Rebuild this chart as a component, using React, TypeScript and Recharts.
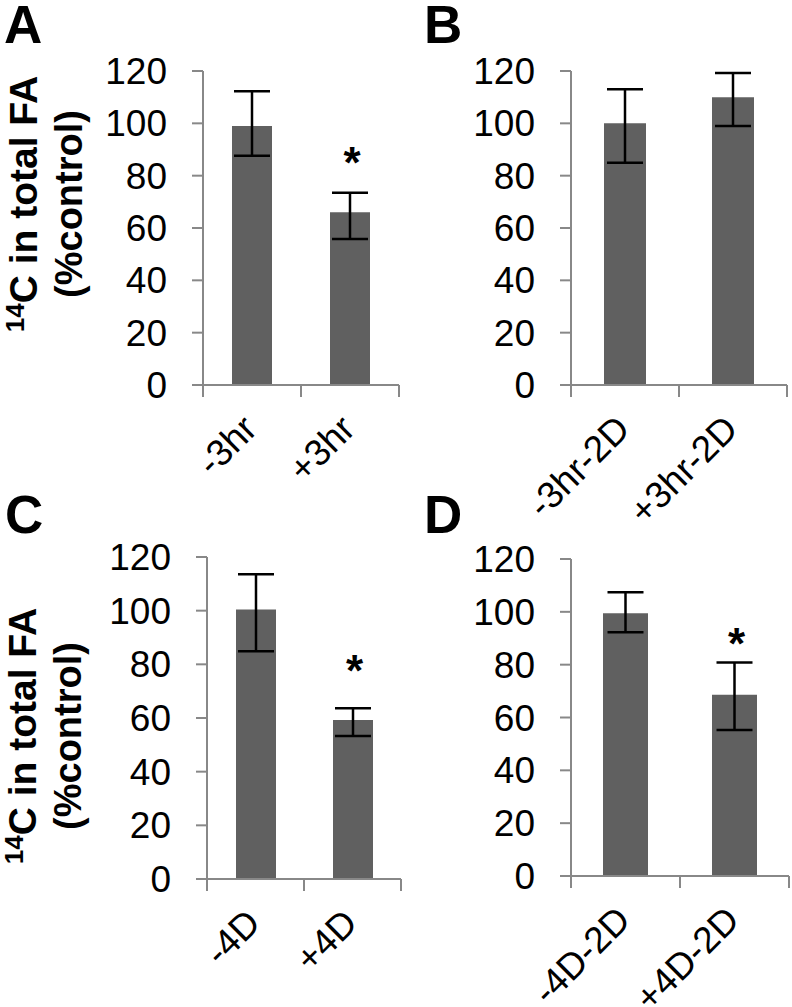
import React from 'react';
import { ComposedChart, Bar, ErrorBar, Scatter, XAxis, YAxis, Text } from 'recharts';

const FONT = '"Liberation Sans", Arial, Helvetica, sans-serif';
const BAR_FILL = '#606060';
const AXIS_GREY = '#888888';

const yTicks = [0, 20, 40, 60, 80, 100, 120];

// panel A
const catsA = ['-3hr', '+3hr'];
const meanA = [99, 66];
const errLoA = [11.4, 10.2];
const errHiA = [13.3, 7.5];
const starA = [null, 88];

// panel B
const catsB = ['-3hr-2D', '+3hr-2D'];
const meanB = [100, 110];
const errLoB = [15.1, 11];
const errHiB = [13, 9.2];
const starB = [null, null];

// panel C
const catsC = ['-4D', '+4D'];
const meanC = [100.4, 59.3];
const errLoC = [15.5, 6];
const errHiC = [13.2, 4.3];
const starC = [null, 80.5];

// panel D
const catsD = ['-4D-2D', '+4D-2D'];
const meanD = [99.5, 68.6];
const errLoD = [7.2, 13.3];
const errHiD = [7.9, 12.2];
const starD = [null, 90.7];

const build = (cats: string[], mean: number[], lo: number[], hi: number[], star: (number | null)[]) =>
  cats.map((c, i) => ({ cat: c, mean: mean[i], err: [lo[i], hi[i]], star: star[i] }));

const panels = [
  { id: 'A', data: build(catsA, meanA, errLoA, errHiA, starA), box: { x: 0, y: 0, w: 410, h: 545 }, plot: { l: 203, t: 71, r: 399, b: 385 }, barSize: 40 },
  { id: 'B', data: build(catsB, meanB, errLoB, errHiB, starB), box: { x: 380, y: 0, w: 412, h: 545 }, plot: { l: 571, t: 71, r: 787, b: 385 }, barSize: 42 },
  { id: 'C', data: build(catsC, meanC, errLoC, errHiC, starC), box: { x: 0, y: 495, w: 410, h: 512 }, plot: { l: 207, t: 557, r: 401, b: 879 }, barSize: 40 },
  { id: 'D', data: build(catsD, meanD, errLoD, errHiD, starD), box: { x: 380, y: 495, w: 412, h: 512 }, plot: { l: 571, t: 559, r: 789, b: 876 }, barSize: 45 },
];

// excel-style category axis: ticks sit between categories, labels slanted 45 degrees
const XTick = (props: any) => {
  const { x, y, payload, index, bw, count } = props;
  return (
    <g>
      <line x1={x - bw / 2} x2={x - bw / 2} y1={y} y2={y + 12} stroke={AXIS_GREY} strokeWidth={2} />
      {index === count - 1 && (
        <line x1={x + bw / 2} x2={x + bw / 2} y1={y} y2={y + 12} stroke={AXIS_GREY} strokeWidth={2} />
      )}
      <Text
        x={x + 7}
        y={y + 46}
        angle={-45}
        textAnchor="end"
        verticalAnchor="end"
        fontSize={37}
        fontFamily={FONT}
        fill="#000"
      >
        {payload.value}
      </Text>
    </g>
  );
};

const Star = (props: any) => {
  const { cx, cy, payload } = props;
  if (payload == null || payload.star == null || !isFinite(cy)) return <g />;
  return (
    <text x={cx + 2} y={cy + 23} textAnchor="middle" fontSize={44} fontWeight="bold" fontFamily={FONT} fill="#000">
      *
    </text>
  );
};

const Panel = ({ p }: { p: (typeof panels)[number] }) => {
  const { box, plot } = p;
  const bw = (plot.r - plot.l) / p.data.length;
  const n = p.data.length;
  return (
    <div style={{ position: 'absolute', left: box.x, top: box.y }}>
      <ComposedChart
        width={box.w}
        height={box.h}
        data={p.data}
        margin={{ top: plot.t - box.y, right: box.x + box.w - plot.r, bottom: 0, left: 0 }}
      >
        <XAxis
          dataKey="cat"
          height={box.y + box.h - plot.b}
          axisLine={{ stroke: AXIS_GREY, strokeWidth: 2 }}
          tickLine={false}
          tickSize={0}
          tickMargin={0}
          interval={0}
          tick={(tp: any) => <XTick {...tp} bw={bw} count={n} />}
        />
        <YAxis
          width={plot.l - box.x}
          domain={[0, 120]}
          ticks={yTicks}
          interval={0}
          axisLine={{ stroke: AXIS_GREY, strokeWidth: 2 }}
          tickLine={{ stroke: AXIS_GREY, strokeWidth: 2 }}
          tickSize={11}
          tickMargin={25}
          tick={{ fontSize: 37, fill: '#000', fontFamily: FONT }}
        />
        <Bar dataKey="mean" fill={BAR_FILL} barSize={p.barSize} isAnimationActive={false}>
          <ErrorBar dataKey="err" width={18} strokeWidth={2.5} stroke="#000" direction="y" />
        </Bar>
        <Scatter dataKey="star" shape={<Star />} isAnimationActive={false} />
      </ComposedChart>
    </div>
  );
};

const YTitle = ({ x1, x2, cy }: { x1: number; x2: number; cy: number }) => (
  <g fontFamily={FONT} fontWeight="bold" fill="#000">
    <text transform={`translate(${x1},${cy}) rotate(-90)`} textAnchor="middle" fontSize={39}>
      <tspan fontSize={26} dy={-13}>14</tspan>
      <tspan dy={13}>C in total FA</tspan>
    </text>
    <text transform={`translate(${x2},${cy}) rotate(-90)`} textAnchor="middle" fontSize={38}>
      (%control)
    </text>
  </g>
);

export default function App() {
  return (
    <div style={{ position: 'absolute', left: 0, top: 0, width: 792, height: 1007, background: '#fff', overflow: 'hidden' }}>
      {panels.map((p) => (
        <Panel key={p.id} p={p} />
      ))}
      <svg width={792} height={1007} style={{ position: 'absolute', left: 0, top: 0, pointerEvents: 'none' }}>
        <g fontFamily={FONT} fontWeight="bold" fontSize={53} fill="#000">
          <text x={4} y={43}>A</text>
          <text x={424} y={43}>B</text>
          <text x={5} y={533}>C</text>
          <text x={424} y={533}>D</text>
        </g>
        <YTitle x1={37} x2={82} cy={204} />
        <YTitle x1={36} x2={81} cy={736} />
      </svg>
    </div>
  );
}
